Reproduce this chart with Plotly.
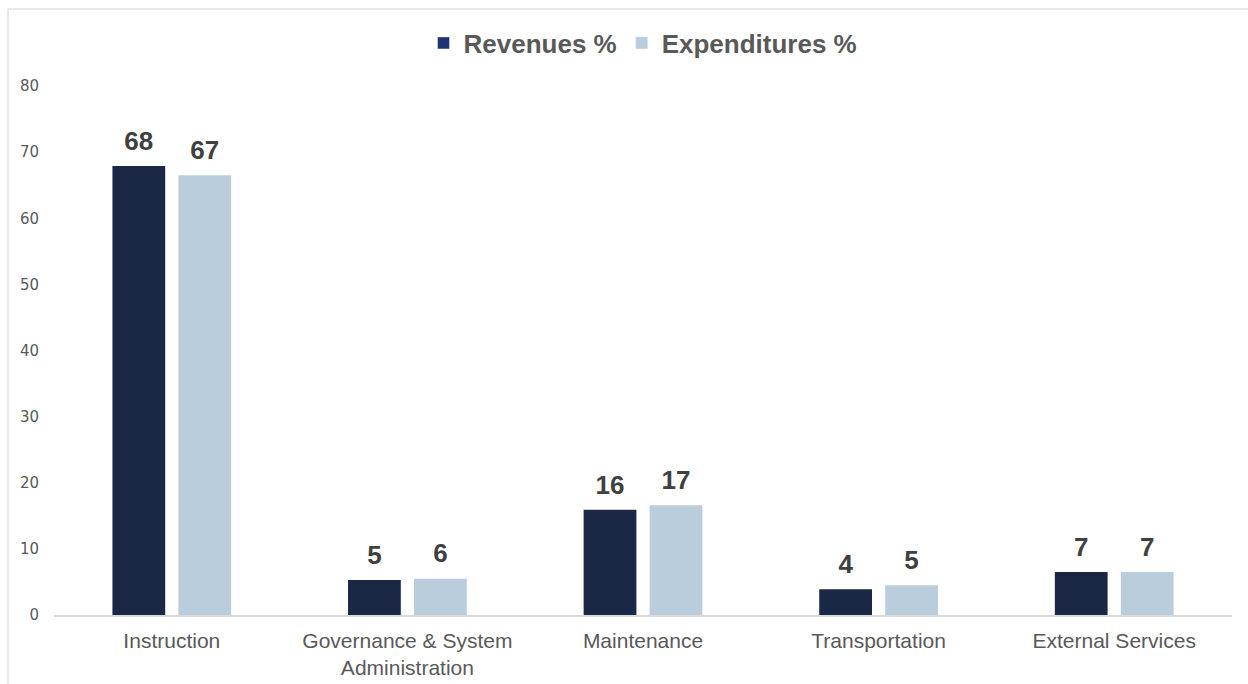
import plotly.graph_objects as go

categories = ["Instruction", "Governance & System<br>Administration", "Maintenance", "Transportation", "External Services"]
revenues = [67.9, 5.3, 15.9, 3.9, 6.5]
expenditures = [66.5, 5.5, 16.6, 4.5, 6.5]
revenue_labels = ["68", "5", "16", "4", "7"]
expenditure_labels = ["67", "6", "17", "5", "7"]
y_ticks = [0, 10, 20, 30, 40, 50, 60, 70, 80]

W, H = 1248, 684
L, R, T, B = 54, 16, 86, 69
pw, ph = W - L - R, H - T - B

label_font = dict(family="Liberation Sans, Arial", size=26, color="#404040")

fig = go.Figure()
fig.add_trace(go.Bar(x=categories, y=revenues, name="Revenues %", marker=dict(color="#1a2846", line=dict(width=0)),
                     showlegend=False, offsetgroup="rev", hoverinfo="skip"))
fig.add_trace(go.Bar(x=categories, y=expenditures, name="Expenditures %", marker=dict(color="#b9cddd", line=dict(width=0)),
                     showlegend=False, offsetgroup="exp", hoverinfo="skip"))
# value labels, placed above the bars via grouped scatter
fig.add_trace(go.Scatter(x=categories, y=revenues, mode="markers+text", offsetgroup="rev",
                         marker=dict(size=14, color="rgba(0,0,0,0)"),
                         text=["<b>%s</b>" % t for t in revenue_labels], textposition="top center",
                         textfont=label_font, cliponaxis=False, showlegend=False))
fig.add_trace(go.Scatter(x=categories, y=expenditures, mode="markers+text", offsetgroup="exp",
                         marker=dict(size=14, color="rgba(0,0,0,0)"),
                         text=["<b>%s</b>" % t for t in expenditure_labels], textposition="top center",
                         textfont=label_font, cliponaxis=False, showlegend=False))
# legend-only entries
fig.add_trace(go.Bar(x=[categories[0]], y=[None], name="<b>Revenues %</b>", marker=dict(color="#1f3470"),
                     showlegend=True, offsetgroup="rev"))
fig.add_trace(go.Bar(x=[categories[0]], y=[None], name="<b>Expenditures %</b>", marker=dict(color="#b9cddd"),
                     showlegend=True, offsetgroup="exp"))

fig.update_layout(
    width=W, height=H,
    margin=dict(l=L, r=R, t=T, b=B),
    paper_bgcolor="white", plot_bgcolor="white",
    barmode="group", bargap=0.44, bargroupgap=0.2,
    scattermode="group", scattergap=0.44,
    font=dict(family="Liberation Sans, Arial", color="#595959"),
    legend=dict(orientation="h", x=0.5, xanchor="center", y=(H - B - 43) / ph, yanchor="middle",
                font=dict(family="Liberation Sans, Arial", size=26, color="#595959"),
                itemwidth=30, traceorder="normal"),
    xaxis=dict(showgrid=False, showline=True, linecolor="#d9d9d9", linewidth=1.5, ticks="", automargin=False,
               tickfont=dict(size=21, color="#595959", family="Liberation Sans, Arial"), ticklabelstandoff=6),
    yaxis=dict(range=[0, 80], tickvals=y_ticks, showgrid=False, zeroline=False, showline=False, automargin=False,
               tickfont=dict(size=15, color="#595959", family="DejaVu Sans, Verdana"), ticklabelstandoff=14),
    shapes=[
        dict(type="line", xref="paper", yref="paper", x0=(8 - L) / pw, x1=(8 - L) / pw,
             y0=(H - B - 9) / ph, y1=(H - B - H) / ph, line=dict(color="#e0e0e0", width=1.5)),
        dict(type="line", xref="paper", yref="paper", x0=(8 - L) / pw, x1=(W - L) / pw,
             y0=(H - B - 9) / ph, y1=(H - B - 9) / ph, line=dict(color="#e0e0e0", width=1.5)),
    ],
)

fig.write_html("out.html")
